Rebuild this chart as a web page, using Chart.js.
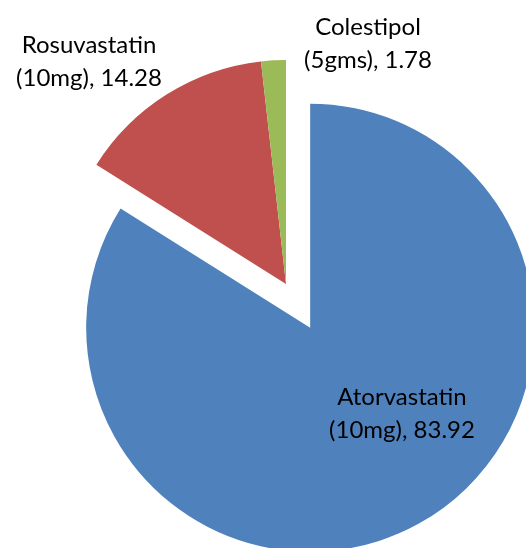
<!DOCTYPE html>
<html>
<head>
<meta charset="utf-8">
<script src="https://cdn.jsdelivr.net/npm/chart.js@4/dist/chart.umd.min.js"></script>
<style>
  html, body { margin: 0; padding: 0; background: #fff; }
  #wrap { position: relative; width: 526px; height: 548px; overflow: hidden; }
  #wrap canvas { position: absolute; left: 0; top: 0; }
</style>
</head>
<body>
<div id="wrap">
  <canvas id="c1" width="526" height="548"></canvas>
  <canvas id="c2" width="526" height="548"></canvas>
</div>
<script>
// ---- data ----
const drugNames = ['Atorvastatin', 'Rosuvastatin', 'Colestipol'];
const drugDoses = ['(10mg)', '(10mg)', '(5gms)'];
const values = [83.92, 14.28, 1.78];
const valueLabels = ['83.92', '14.28', '1.78'];

// ---- styles / layout ----
const colors = ['#4F81BD', '#C0504D', '#9BBB59'];
const labelPos = [[402, 405], [89, 53], [368, 35]]; // [centerX, first baseline]
const lineGap = 32.5;
const fontSpec = '24px Lato, "Open Sans", sans-serif';
const outerR = 224;        // visible pie radius
const explodeGap = 50;     // px the Atorvastatin slice is pulled out
const padding = { left: 46, right: 0, top: 20, bottom: 0 };

const transparent = 'rgba(0,0,0,0)';
const total = values.reduce((a, b) => a + b, 0);

// Chart.js trims exploded arcs' angles by gap/(2*PI*R); compensate so the edges stay radial.
const trimDeg = (explodeGap / (2 * Math.PI * outerR)) * 180 / Math.PI;
const blueSpanDeg = values[0] / total * 360;
const circ1 = (blueSpanDeg + 2 * trimDeg) / (values[0] / total);

const commonOpts = {
  responsive: false,
  animation: false,
  events: [],
  layout: { padding: padding },
  plugins: { legend: { display: false }, tooltip: { enabled: false } }
};

// Chart 1: exploded Atorvastatin slice
new Chart(document.getElementById('c1'), {
  type: 'pie',
  data: {
    labels: drugNames,
    datasets: [{
      data: values,
      backgroundColor: [colors[0], transparent, transparent],
      borderWidth: 0,
      offset: [explodeGap * 4, 0, 0],
      clip: false
    }]
  },
  options: Object.assign({}, commonOpts, {
    radius: outerR - explodeGap,
    rotation: -trimDeg,
    circumference: circ1
  })
});

// Chart 2: other slices + labels
const labelPlugin = {
  id: 'sliceLabels',
  afterDraw(chart) {
    const ctx = chart.ctx;
    ctx.save();
    ctx.font = fontSpec;
    ctx.fillStyle = '#000000';
    ctx.textAlign = 'center';
    ctx.textBaseline = 'alphabetic';
    for (let i = 0; i < drugNames.length; i++) {
      const [x, y] = labelPos[i];
      ctx.fillText(drugNames[i], x, y);
      ctx.fillText(drugDoses[i] + ', ' + valueLabels[i], x, y + lineGap);
    }
    ctx.restore();
  }
};

new Chart(document.getElementById('c2'), {
  type: 'pie',
  data: {
    labels: drugNames,
    datasets: [{
      data: values,
      backgroundColor: [transparent, colors[1], colors[2]],
      borderWidth: 0,
      clip: false
    }]
  },
  options: Object.assign({}, commonOpts, { radius: outerR }),
  plugins: [labelPlugin]
});
</script>
</body>
</html>
